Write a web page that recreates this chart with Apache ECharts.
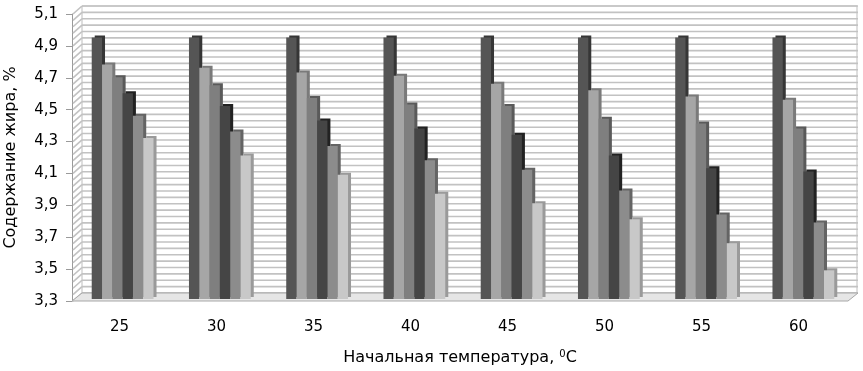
<!DOCTYPE html>
<html>
<head>
<meta charset="utf-8">
<script src="https://cdn.jsdelivr.net/npm/echarts@6/dist/echarts.min.js"></script>
<style>
  html, body { margin: 0; padding: 0; background: #fff; }
  #main { width: 863px; height: 371px; }
</style>
</head>
<body>
<div id="main"></div>
<script>
// Начальная температура, °C
var categories = ['25', '30', '35', '40', '45', '50', '55', '60'];
// содержание жира, % (6 рядов)
var s1 = [4.94, 4.94, 4.94, 4.94, 4.94, 4.94, 4.94, 4.94];
var s2 = [4.77, 4.75, 4.72, 4.70, 4.65, 4.61, 4.57, 4.55];
var s3 = [4.69, 4.64, 4.56, 4.52, 4.51, 4.43, 4.40, 4.37];
var s4 = [4.59, 4.51, 4.42, 4.37, 4.33, 4.20, 4.12, 4.10];
var s5 = [4.45, 4.35, 4.26, 4.17, 4.11, 3.98, 3.83, 3.78];
var s6 = [4.31, 4.20, 4.08, 3.96, 3.90, 3.80, 3.65, 3.48];

var seriesData = [s1, s2, s3, s4, s5, s6];
var faceColors = ['#555555', '#a6a6a6', '#7f7f7f', '#454545', '#8c8c8c', '#c8c8c8'];
var sideColors = ['#363636', '#7a7a7a', '#5a5a5a', '#222222', '#646464', '#9a9a9a'];

var yMin = 3.3, yMax = 5.1, yStep = 0.2, minorStep = 0.04;
var depthX = 10, depthY = -8;
var gridColor = '#c2c2c2';
var font = 'DejaVu Sans';

var chart = echarts.init(document.getElementById('main'));

var series = seriesData.map(function (d, i) {
  return {
    type: 'bar',
    xAxisIndex: 2,
    yAxisIndex: 2,
    data: d,
    barWidth: 10.3,
    barGap: '0%',
    itemStyle: {
      color: faceColors[i],
      shadowColor: sideColors[i],
      shadowBlur: 0,
      shadowOffsetX: 3,
      shadowOffsetY: -2
    },
    z: 5
  };
});

var option = {
  animation: false,
  backgroundColor: '#fff',
  grid: [
    // front plane (axes, labels)
    { left: 72, right: 15, top: 14, bottom: 70, containLabel: false, outerBoundsMode: 'none' },
    // back wall
    { left: 82, right: 6, top: 6, bottom: 78, show: true, borderColor: '#bdbdbd', borderWidth: 1, backgroundColor: 'transparent', outerBoundsMode: 'none' },
    // bars at mid depth
    { left: 74, right: 11, top: 12, bottom: 72, outerBoundsMode: 'none' }
  ],
  xAxis: [
    {
      gridIndex: 0, type: 'category', data: categories,
      axisLine: { show: false }, axisTick: { show: false },
      axisLabel: { margin: 19, fontFamily: font, fontSize: 15, color: '#000', padding: [0, 2, 0, 0] },
      name: 'Начальная температура, {sup|0}С',
      nameLocation: 'middle', nameGap: 48,
      nameTextStyle: {
        fontFamily: font, fontSize: 16, color: '#000',
        rich: { sup: { fontFamily: font, fontSize: 10, color: '#000', verticalAlign: 'top', padding: [0, 0, 8, 0] } }
      }
    },
    { gridIndex: 1, type: 'category', data: categories, show: false },
    { gridIndex: 2, type: 'category', data: categories, show: false }
  ],
  yAxis: [
    {
      gridIndex: 0, type: 'value', min: yMin, max: yMax, interval: yStep,
      axisLine: { show: true, lineStyle: { color: '#9a9a9a', width: 1 } },
      axisTick: { show: true, inside: false, length: 6, lineStyle: { color: '#9a9a9a' } },
      splitLine: { show: false },
      axisLabel: {
        margin: 14, fontFamily: font, fontSize: 15, color: '#000',
        formatter: function (v) { return v.toFixed(1).replace('.', ','); }
      },
      name: 'Содержание жира, %',
      nameLocation: 'middle', nameGap: 53, nameRotate: 90,
      nameTextStyle: { fontFamily: font, fontSize: 16, color: '#000' }
    },
    {
      gridIndex: 1, type: 'value', min: yMin, max: yMax, interval: yStep,
      axisLine: { show: false }, axisTick: { show: false }, axisLabel: { show: false },
      splitLine: { show: false }
    },
    { gridIndex: 2, type: 'value', min: yMin, max: yMax, show: false, splitLine: { show: false } }
  ],
  series: series
};

chart.setOption(option);

// 3D frame: back wall lines, side wall and floor
var graphics = [];
var c0 = chart.convertToPixel({ xAxisIndex: 0 }, 0);
var c1 = chart.convertToPixel({ xAxisIndex: 0 }, 1);
var half = (c1 - c0) / 2;
var xLeft = c0 - half;
var xRight = chart.convertToPixel({ xAxisIndex: 0 }, categories.length - 1) + half;
var yBottom = chart.convertToPixel({ yAxisIndex: 0 }, yMin);
var nLines = Math.round((yMax - yMin) / minorStep);
for (var k = 0; k <= nLines; k++) {
  var v = yMin + k * minorStep;
  var yf = chart.convertToPixel({ yAxisIndex: 0 }, v);
  var yb = chart.convertToPixel({ yAxisIndex: 1 }, v);
  graphics.push({
    type: 'line', silent: true, z: 1,
    shape: { x1: xLeft + 1, y1: yf, x2: xLeft + depthX, y2: yf + depthY },
    style: { stroke: gridColor, lineWidth: 1.6 }
  });
  graphics.push({
    type: 'line', silent: true, z: 1,
    shape: { x1: xLeft + depthX, y1: yb, x2: xRight + depthX, y2: yb },
    style: { stroke: gridColor, lineWidth: 1.6 }
  });
}
graphics.push({
  type: 'polygon', silent: true, z: 2,
  shape: { points: [[xLeft, yBottom], [xRight, yBottom], [xRight + depthX, yBottom + depthY], [xLeft + depthX, yBottom + depthY]] },
  style: { fill: '#e6e6e6', stroke: '#a8a8a8', lineWidth: 1 }
});
chart.setOption({ graphic: graphics });
</script>
</body>
</html>
